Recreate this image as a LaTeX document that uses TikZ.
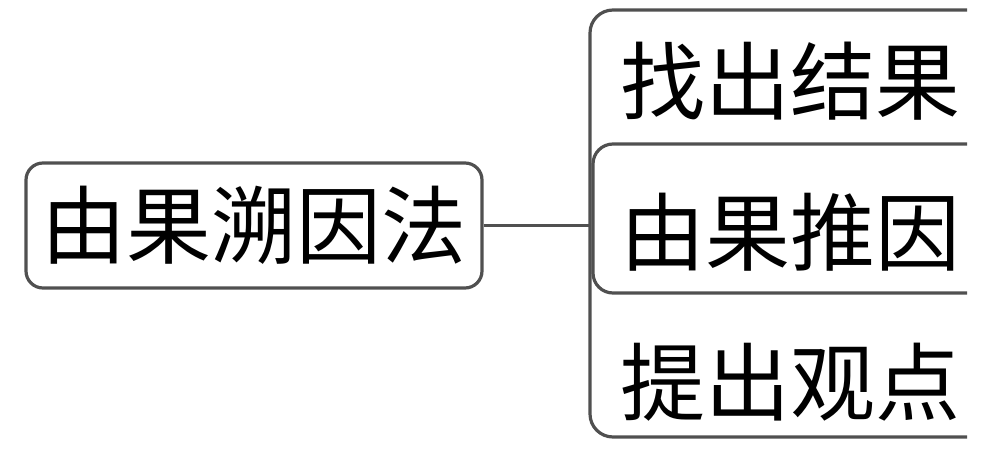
\documentclass[tikz,border=0pt]{standalone}
\usepackage{fontspec}
\setmainfont{Noto Sans CJK SC}
\usetikzlibrary{positioning}
\definecolor{linegray}{RGB}{80,80,80}

\begin{document}
\begin{tikzpicture}[
    x=1pt, y=1pt,
    line/.style={draw=linegray, line width=3.2pt},
    rootbox/.style={line, rounded corners=17pt, minimum width=456pt, minimum height=125pt, inner sep=0pt, font=\fontsize{85}{85}\selectfont},
    leaf/.style={inner sep=0pt, font=\fontsize{85}{85}\selectfont}
  ]
    \useasboundingbox (0,0) rectangle (998,448);
    \node[rootbox] (root) at (254,222.5) {由果溯因法};
    \node[leaf] (find) at (790,367) {找出结果};
    \node[leaf] (infer) at (790,216) {由果推因};
    \node[leaf] (claim) at (790,66) {提出观点};
    \coordinate (spine) at (590,222.5);
    % branch frame
    \draw[line, rounded corners=23pt] (967,438) -- (590,438) -- (590,11) -- (967,11);
    \draw[line, rounded corners=20pt] (967,304) -- (593,304) -- (593,155) -- (967,155);
    \draw[line] (root.east) -- (spine);
  \end{tikzpicture}
\end{document}
